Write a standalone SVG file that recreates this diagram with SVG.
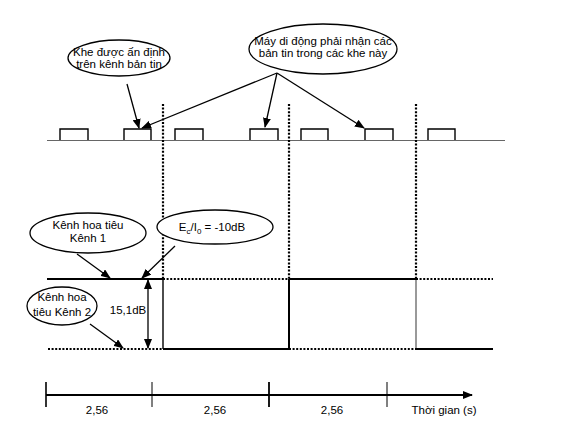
<svg xmlns="http://www.w3.org/2000/svg" width="562" height="424" viewBox="0 0 562 424">
<style>
text{font-family:"Liberation Sans",Arial,sans-serif;font-size:11.5px;fill:#000;text-anchor:middle}
.ell{fill:#fff;stroke:#000;stroke-width:1.3}
.arr{stroke:#000;stroke-width:1.3;fill:none}
.slot{fill:none;stroke:#000;stroke-width:1.4}
.solid{stroke:#000;stroke-width:2;fill:none}
.dot{stroke:#000;stroke-width:2.2;stroke-dasharray:2 1.6;fill:none}
</style>
<defs>
<marker id="ah" markerWidth="10" markerHeight="8" refX="9" refY="4" orient="auto" markerUnits="userSpaceOnUse">
<path d="M0,0 L10,4 L0,8 Z" fill="#000"/>
</marker>
<marker id="ahs" markerWidth="10" markerHeight="8" refX="1" refY="4" orient="auto" markerUnits="userSpaceOnUse">
<path d="M10,0 L0,4 L10,8 Z" fill="#000"/>
</marker>
</defs>
<rect width="562" height="424" fill="#fff"/>

<g id="timeslots">
<line x1="47" y1="140.5" x2="505" y2="140.5" stroke="#666" stroke-width="1.2"/>
<path class="slot" d="M60,140 V129 H88 V140"/>
<path class="slot" d="M124,140 V129 H151 V140"/>
<path class="slot" d="M175,140 V129 H203 V140"/>
<path class="slot" d="M250,140 V129 H278 V140"/>
<path class="slot" d="M301,140 V129 H328 V140"/>
<path class="slot" d="M365,140 V129 H393 V140"/>
<path class="slot" d="M428,140 V129 H455 V140"/>
</g>

<g id="boundaries">
<line class="dot" x1="163" y1="104" x2="163" y2="279"/>
<line class="dot" x1="289" y1="104" x2="289" y2="279"/>
<line class="dot" x1="416" y1="104" x2="416" y2="279"/>
<line x1="163" y1="279" x2="163" y2="349" stroke="#000" stroke-width="1.4"/>
<line x1="289" y1="279" x2="289" y2="349" stroke="#000" stroke-width="2"/>
<line x1="416" y1="279" x2="416" y2="349" stroke="#555" stroke-width="1.2"/>
</g>

<g id="channel1">
<line class="solid" x1="47" y1="279" x2="163" y2="279"/>
<line class="dot" x1="163" y1="279" x2="289" y2="279"/>
<line class="solid" x1="289" y1="279" x2="416" y2="279"/>
<line class="dot" x1="416" y1="279" x2="493" y2="279"/>
</g>
<g id="channel2">
<line class="dot" x1="48" y1="349" x2="163" y2="349"/>
<line class="solid" x1="163" y1="349" x2="289" y2="349"/>
<line class="dot" x1="289" y1="349" x2="416" y2="349"/>
<line class="solid" x1="416" y1="349" x2="493" y2="349"/>
</g>

<g id="connectors">
<line class="arr" x1="127" y1="84" x2="139" y2="128" marker-end="url(#ah)"/>
<line class="arr" x1="277" y1="73" x2="142" y2="128" marker-end="url(#ah)"/>
<line class="arr" x1="277" y1="73" x2="265" y2="127" marker-end="url(#ah)"/>
<line class="arr" x1="277" y1="73" x2="364" y2="128" marker-end="url(#ah)"/>
<line class="arr" x1="77" y1="254" x2="110" y2="278" marker-end="url(#ah)"/>
<line class="arr" x1="175" y1="246" x2="142" y2="278" marker-end="url(#ah)"/>
<line class="arr" x1="90" y1="324" x2="123" y2="348" marker-end="url(#ah)"/>
<line class="arr" x1="148" y1="280" x2="148" y2="348" marker-start="url(#ahs)" marker-end="url(#ah)"/>
</g>

<g id="node-khe">
<ellipse class="ell" cx="119" cy="58" rx="51" ry="18"/>
<text x="119" y="56">Khe được ấn định</text>
<text x="119" y="68">trên kênh bản tin</text>
</g>

<g id="node-may">
<ellipse class="ell" cx="323" cy="49" rx="74" ry="25"/>
<text x="323" y="45">Máy di động phải nhận các</text>
<text x="323" y="57">bản tin trong các khe này</text>
</g>

<g id="node-kenh1">
<ellipse class="ell" cx="88" cy="233" rx="58" ry="20"/>
<text x="88" y="229">Kênh hoa tiêu</text>
<text x="88" y="242">Kênh 1</text>
</g>

<g id="node-ecio">
<ellipse class="ell" cx="215" cy="227" rx="58" ry="17"/>
<text x="212" y="231">E<tspan font-size="8" dy="3">c</tspan><tspan dy="-3">/I</tspan><tspan font-size="8" dy="3">0</tspan><tspan dy="-3"> = -10dB</tspan></text>
</g>

<g id="node-kenh2">
<ellipse class="ell" cx="62" cy="306" rx="35" ry="19"/>
<text x="62" y="301">Kênh hoa</text>
<text x="62" y="316">tiêu Kênh 2</text>
</g>

<g id="label-151">
<text x="128" y="314">15,1dB</text>
</g>

<g id="timeaxis">
<line x1="46" y1="395" x2="472" y2="395" stroke="#000" stroke-width="1.8" marker-end="url(#ah)"/>
<line x1="46" y1="382" x2="46" y2="407" stroke="#000" stroke-width="1.6"/>
<line x1="152" y1="382" x2="152" y2="407" stroke="#000" stroke-width="1"/>
<line x1="269" y1="382" x2="269" y2="407" stroke="#000" stroke-width="1.8"/>
<line x1="387" y1="382" x2="387" y2="407" stroke="#000" stroke-width="1"/>
<text x="97" y="414">2,56</text>
<text x="215" y="414">2,56</text>
<text x="332" y="414">2,56</text>
<text x="444" y="414">Thời gian (s)</text>
</g>
</svg>
